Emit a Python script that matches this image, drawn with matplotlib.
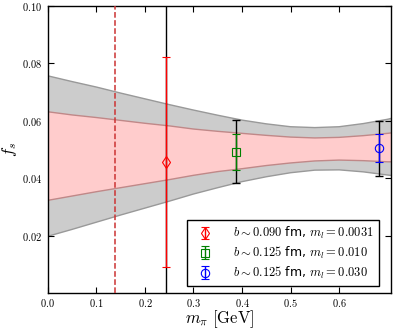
import matplotlib
matplotlib.use("Agg")
import matplotlib.pyplot as plt
from matplotlib.ticker import FuncFormatter

plt.rcParams['mathtext.fontset'] = 'cm'
plt.rcParams['font.family'] = ['DejaVu Sans']

# Band (fit) data
band_x = [0.0, 0.05, 0.10, 0.15, 0.20, 0.25, 0.30, 0.35, 0.40, 0.45, 0.50, 0.55, 0.60, 0.65, 0.70, 0.71]
gray_hi = [0.0757, 0.0737, 0.0718, 0.0697, 0.0677, 0.0657, 0.0638, 0.0620, 0.0603, 0.0590, 0.0580, 0.0577, 0.0580, 0.0591, 0.0606, 0.0610]
gray_lo = [0.0199, 0.0223, 0.0248, 0.0273, 0.0297, 0.0321, 0.0346, 0.0368, 0.0389, 0.0406, 0.0420, 0.0429, 0.0430, 0.0423, 0.0412, 0.0410]
pink_hi = [0.0632, 0.0621, 0.0612, 0.0602, 0.0592, 0.0583, 0.0572, 0.0564, 0.0557, 0.0550, 0.0544, 0.0541, 0.0543, 0.0549, 0.0557, 0.0559]
pink_lo = [0.0324, 0.0339, 0.0354, 0.0368, 0.0382, 0.0396, 0.0411, 0.0424, 0.0434, 0.0445, 0.0454, 0.0461, 0.0464, 0.0462, 0.0458, 0.0458]

# Data points
mpi = [0.2425, 0.388, 0.682]
fs = [0.0457, 0.0493, 0.0505]
stat_err = [0.0364, 0.0062, 0.0049]
tot_err = [0.070, 0.0110, 0.0096]
colors = ['red', 'green', 'blue']
markers = ['d', 's', 'o']
labels = [r'$b\sim0.090$ fm, $m_l=0.0031$',
          r'$b\sim0.125$ fm, $m_l=0.010$',
          r'$b\sim0.125$ fm, $m_l=0.030$']
phys_mpi = 0.138

xticks = [0.0, 0.1, 0.2, 0.3, 0.4, 0.5, 0.6]
yticks = [0.02, 0.04, 0.06, 0.08, 0.10]

fig = plt.figure(figsize=(3.99, 3.32), dpi=100)
ax = fig.add_axes([0.120, 0.116, 0.860, 0.866])

ax.fill_between(band_x, gray_lo, gray_hi, facecolor='#cccccc', edgecolor='none', zorder=1)
ax.plot(band_x, gray_hi, color='#999999', lw=1, zorder=1.5)
ax.plot(band_x, gray_lo, color='#999999', lw=1, zorder=1.5)
ax.fill_between(band_x, pink_lo, pink_hi, facecolor='#ffcccc', edgecolor='none', zorder=2)
ax.plot(band_x, pink_hi, color='#c08888', lw=1, zorder=2.5)
ax.plot(band_x, pink_lo, color='#c08888', lw=1, zorder=2.5)

ax.axvline(phys_mpi, color='#cc3333', ls='--', lw=1.1, zorder=3)

for i in range(3):
    ax.errorbar([mpi[i]], [fs[i]], yerr=[tot_err[i]], fmt='none', ecolor='black',
                elinewidth=1, capsize=3, zorder=4)
for i in range(3):
    ax.errorbar([mpi[i]], [fs[i]], yerr=[stat_err[i]], fmt=markers[i], color=colors[i],
                mfc='none', mec=colors[i], ms=6, mew=0.8,
                elinewidth=1, capsize=3, label=labels[i], zorder=5)

ax.set_xlim(0, 0.707)
ax.set_ylim(0, 0.1)
ax.set_xticks(xticks)
ax.set_yticks(yticks)
ax.xaxis.set_major_formatter(FuncFormatter(lambda v, p: r'$%.1f$' % v))
ax.yaxis.set_major_formatter(FuncFormatter(lambda v, p: r'$%.2f$' % v))
ax.tick_params(direction='in', top=True, right=True, length=4, width=0.8, labelsize=7.5, pad=4)
ax.tick_params(axis='x', pad=2.5)
for s in ax.spines.values():
    s.set_linewidth(1)

ax.set_xlabel(r'$m_\pi\ [\mathrm{GeV}]$', fontsize=12, va='top')
ax.xaxis.set_label_coords(0.5, -0.05)
ax.set_ylabel(r'$f_s$', fontsize=12)
ax.yaxis.set_label_coords(-0.085, 0.5)

leg = ax.legend(loc='lower right', bbox_to_anchor=(0.965, 0.026), borderaxespad=0,
                numpoints=1, fontsize=9, fancybox=False, labelspacing=0.3,
                edgecolor='black', framealpha=1, handletextpad=1.3, borderpad=0.4)
leg.get_frame().set_linewidth(1)

fig.savefig('out.png', dpi=100)
